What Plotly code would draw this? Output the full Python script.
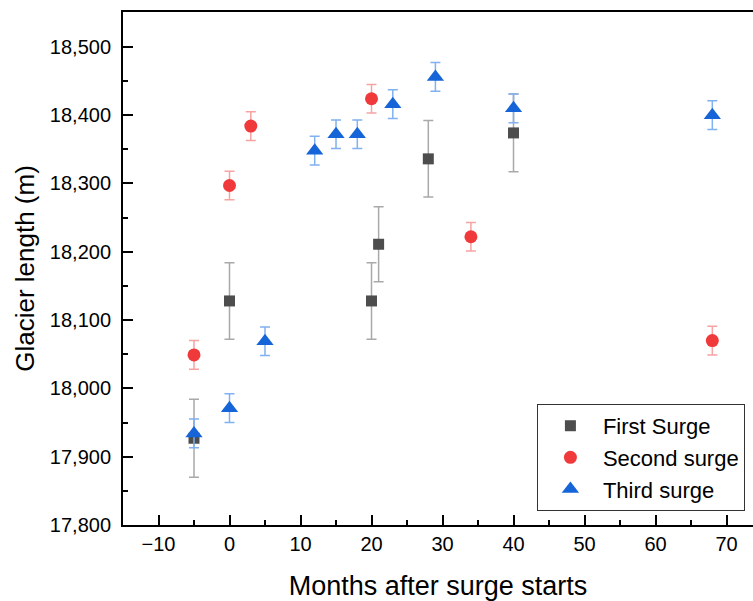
import plotly.graph_objects as go

# Glacier length (m) against months after each surge began, with error bars
first_months = [-5, 0, 20, 21, 28, 40]
first_length = [17927, 18128, 18128, 18211, 18336, 18374]
first_err = [57, 56, 56, 55, 56, 57]

second_months = [-5, 0, 3, 20, 34, 68]
second_length = [18049, 18297, 18384, 18424, 18222, 18070]
second_err = [21, 21, 21, 21, 21, 21]

third_months = [-5, 0, 5, 12, 15, 18, 23, 29, 40, 68]
third_length = [17934, 17971, 18069, 18348, 18372, 18372, 18416, 18456, 18410, 18400]
third_err = [21, 21, 21, 21, 21, 21, 21, 21, 21, 21]

series = [
    ("First Surge", first_months, first_length, first_err, "square", 11, "#4d4d4d", "#a9a9a9"),
    ("Second surge", second_months, second_length, second_err, "circle", 13, "#f0393a", "#f5a3a3"),
    ("Third surge", third_months, third_length, third_err, "triangle-up", 15, "#1565d8", "#80b1f0"),
]

FONT = "Arial, 'Liberation Sans', sans-serif"

fig = go.Figure()
for name, xs, ys, errs, symbol, size, color, err_color in series:
    fig.add_trace(go.Scatter(
        x=xs, y=ys, name=name, mode="markers",
        marker=dict(symbol=symbol, size=size, color=color, line=dict(width=0)),
        error_y=dict(type="data", array=errs, visible=True,
                     color=err_color, thickness=1.5, width=5),
    ))

fig.update_layout(
    width=753, height=601,
    margin=dict(l=123, r=0, t=12, b=76, autoexpand=False),
    paper_bgcolor="white", plot_bgcolor="white",
    font=dict(family=FONT, color="black", size=20),
    showlegend=True,
    legend=dict(
        x=0.657, y=0.236, xanchor="left", yanchor="top",
        bordercolor="#333333", borderwidth=1, bgcolor="white",
        font=dict(size=22, family=FONT),
        itemwidth=55, entrywidth=230, entrywidthmode="pixels",
    ),
    xaxis=dict(
        range=[-15, 73.73], dtick=10, tick0=0,
        showline=True, linecolor="black", linewidth=2, mirror=True,
        ticks="inside", ticklen=10, tickwidth=2, tickcolor="black",
        minor=dict(dtick=5, ticks="inside", ticklen=5, tickwidth=2, tickcolor="black"),
        showgrid=False, zeroline=False,
        tickfont=dict(size=20),
        title=dict(text="Months after surge starts", font=dict(size=27), standoff=22),
    ),
    yaxis=dict(
        range=[17800, 18551], dtick=100, tick0=17800,
        tickformat=",d",
        showline=True, linecolor="black", linewidth=2, mirror=False,
        ticks="inside", ticklen=10, tickwidth=2, tickcolor="black",
        minor=dict(dtick=50, ticks="inside", ticklen=5, tickwidth=2, tickcolor="black"),
        showgrid=False, zeroline=False,
        tickfont=dict(size=20), ticklabelstandoff=6,
        title=dict(text="Glacier length (m)", font=dict(size=26), standoff=8),
    ),
)

fig.write_html("out.html")
